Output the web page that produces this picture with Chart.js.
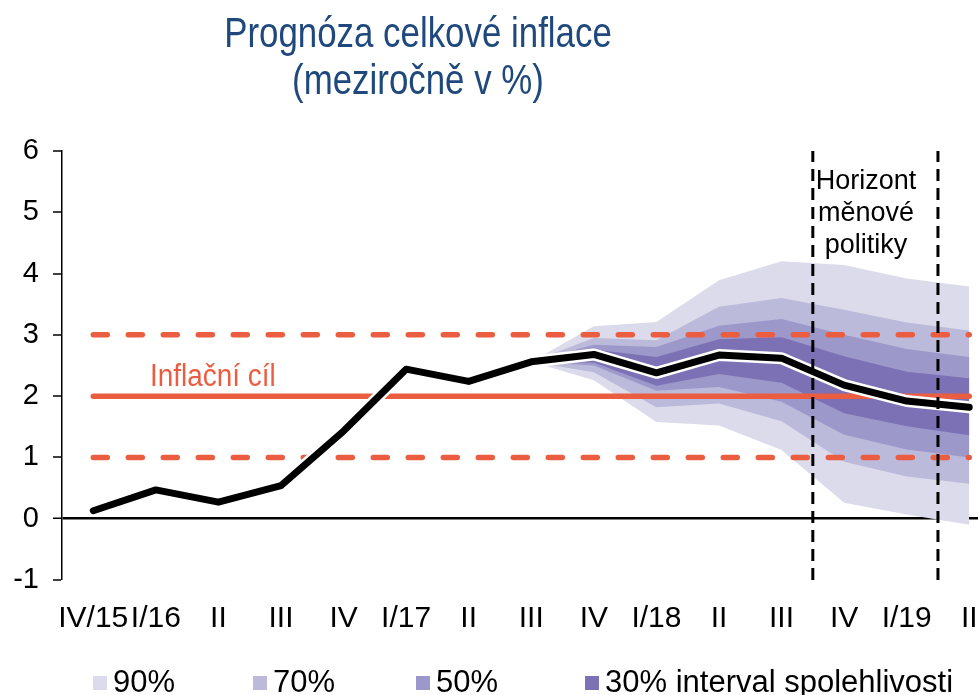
<!DOCTYPE html>
<html>
<head>
<meta charset="utf-8">
<script src="https://cdn.jsdelivr.net/npm/chart.js@4.4.0/dist/chart.umd.min.js"></script>
<style>
body{margin:0;background:#fff;}
#wrap{position:relative;width:978px;height:695px;overflow:hidden;font-family:"Liberation Sans",Arial,sans-serif;}
#c{position:absolute;left:0;top:0;}
.title{position:absolute;left:0;width:836px;text-align:center;color:#1F497D;font-size:42px;line-height:46px;transform:scaleX(0.83);transform-origin:418px 0;}
.note{position:absolute;font-size:27px;line-height:32px;text-align:center;color:#000;}
.target{position:absolute;color:#EB5D40;font-size:31px;line-height:34px;transform:scaleX(0.9);transform-origin:0 0;}
.leg{position:absolute;top:664px;font-size:31px;line-height:36px;color:#000;white-space:nowrap;}
.leg i{display:inline-block;width:14px;height:14px;margin-right:6px;vertical-align:2px;}
</style>
</head>
<body>
<div id="wrap">
 <canvas id="c" width="978" height="695"></canvas>
 <div class="title" style="top:10px">Prognóza celkové inflace</div>
 <div class="title" style="top:57px">(meziročně v %)</div>
 <div class="note" style="left:805px;width:122px;top:164px">Horizont<br>měnové<br>politiky</div>
 <div class="target" style="left:150px;top:359px">Inflační cíl</div>
 <div id="legend"></div>
</div>
<script>
// quarters on the x axis
const categories = ['IV/15','I/16','II','III','IV','I/17','II','III','IV','I/18','II','III','IV','I/19','II'];
// headline inflation, y/y %
const inflation = [0.13, 0.47, 0.27, 0.54, 1.43, 2.44, 2.24, 2.56, 2.68, 2.38, 2.67, 2.62, 2.18, 1.92, 1.82];
// fan chart bands (confidence intervals)
const band90hi = [null,null,null,null,null,null,null, 2.56, 3.14, 3.21, 3.89, 4.20, 4.14, 3.92, 3.79];
const band70hi = [null,null,null,null,null,null,null, 2.56, 2.95, 2.91, 3.46, 3.60, 3.41, 3.20, 3.07];
const band50hi = [null,null,null,null,null,null,null, 2.56, 2.84, 2.80, 3.15, 3.26, 3.00, 2.77, 2.64];
const band30hi = [null,null,null,null,null,null,null, 2.56, 2.76, 2.64, 2.93, 2.96, 2.65, 2.40, 2.29];
const band30lo = [null,null,null,null,null,null,null, 2.56, 2.55, 2.17, 2.36, 2.22, 1.72, 1.51, 1.36];
const band50lo = [null,null,null,null,null,null,null, 2.56, 2.50, 2.09, 2.15, 1.91, 1.37, 1.13, 1.00];
const band70lo = [null,null,null,null,null,null,null, 2.56, 2.39, 1.82, 1.88, 1.59, 0.93, 0.69, 0.57];
const band90lo = [null,null,null,null,null,null,null, 2.56, 2.26, 1.58, 1.52, 1.12, 0.26, 0.07, -0.10];
// inflation target and tolerance band
const target = 2;
const targetLow = 1;
const targetHigh = 3;
// monetary policy horizon (between quarters)
const horizon = [11.5, 13.5];
const yTicks = [-1, 0, 1, 2, 3, 4, 5, 6];
const legendLabels = ['90%', '70%', '50%', '30% interval spolehlivosti'];

const red = '#EB5D40';
const fanColors = ['#DCDBEB', '#BCBADB', '#9D98CA', '#7C71B5'];

const pts = arr => arr.map((v, i) => ({x: i, y: v}));
const flat = v => categories.map((c, i) => ({x: i, y: v}));
const vline = x => [{x: x, y: yTicks[0]}, {x: x, y: yTicks[yTicks.length - 1]}];

function lineDs(data, color, width, dash, cap){
  return {data: data, borderColor: color, borderWidth: width, borderDash: dash || [],
    borderCapStyle: cap || 'round', borderJoinStyle: 'round', pointRadius: 0, fill: false, tension: 0};
}
function bandDs(data, color, fillTo){
  return {data: data, borderWidth: 0, borderColor: 'transparent', backgroundColor: color,
    pointRadius: 0, fill: fillTo === undefined ? false : fillTo, tension: 0};
}

// first dataset is drawn on top
const datasets = [
  lineDs(vline(horizon[0]), '#000', 3, [12, 7], 'butt'),
  lineDs(vline(horizon[1]), '#000', 3, [12, 7], 'butt'),
  lineDs(pts(inflation), '#000', 7),
  lineDs(pts(inflation), '#fff', 12),
  lineDs(flat(target), red, 5.5),
  lineDs(flat(targetHigh), red, 5.5, [14, 21]),
  lineDs(flat(targetLow), red, 5.5, [14, 21]),
  bandDs(pts(band30hi), fanColors[3], 8),
  bandDs(pts(band30lo), fanColors[3]),
  bandDs(pts(band50hi), fanColors[2], 10),
  bandDs(pts(band50lo), fanColors[2]),
  bandDs(pts(band70hi), fanColors[1], 12),
  bandDs(pts(band70lo), fanColors[1]),
  bandDs(pts(band90hi), fanColors[0], 14),
  bandDs(pts(band90lo), fanColors[0])
];

new Chart(document.getElementById('c'), {
  type: 'line',
  data: {datasets: datasets},
  options: {
    responsive: false,
    animation: false,
    layout: {autoPadding: false, padding: {top: 151, left: 0, right: 0, bottom: 0}},
    plugins: {legend: {display: false}, tooltip: {enabled: false}},
    scales: {
      x: {
        type: 'linear', min: -0.5, max: 14.14,
        afterBuildTicks: s => { s.ticks = categories.map((c, i) => ({value: i})); },
        afterFit: s => { s.height = 115; s.paddingLeft = 0; s.paddingRight = 0; },
        ticks: {callback: (v, i) => categories[i], autoSkip: false, maxRotation: 0, minRotation: 0,
          padding: 21, color: '#000', font: {family: '"Liberation Sans",Arial,sans-serif', size: 30}},
        grid: {display: false, drawTicks: false},
        border: {display: false}
      },
      y: {
        min: yTicks[0], max: yTicks[yTicks.length - 1], z: 1,
        afterBuildTicks: s => { s.ticks = yTicks.map(v => ({value: v})); },
        afterFit: s => { s.width = 62; },
        ticks: {padding: 14, color: '#000', font: {family: '"Liberation Sans",Arial,sans-serif', size: 29}},
        grid: {
          color: ctx => ctx.tick && ctx.tick.value === 0 ? '#000' : 'rgba(0,0,0,0)',
          lineWidth: ctx => ctx.tick && ctx.tick.value === 0 ? 2.5 : 0,
          tickColor: '#000', tickWidth: 1.5, tickLength: 9
        },
        border: {color: '#000', width: 1.5}
      }
    }
  }
});

// legend
const legendLeft = [93, 253, 416, 585];
document.getElementById('legend').innerHTML = legendLabels.map((t, i) =>
  '<div class="leg" style="left:' + legendLeft[i] + 'px"><i style="background:' + fanColors[i] + '"></i>' + t + '</div>').join('');
</script>
</body>
</html>
